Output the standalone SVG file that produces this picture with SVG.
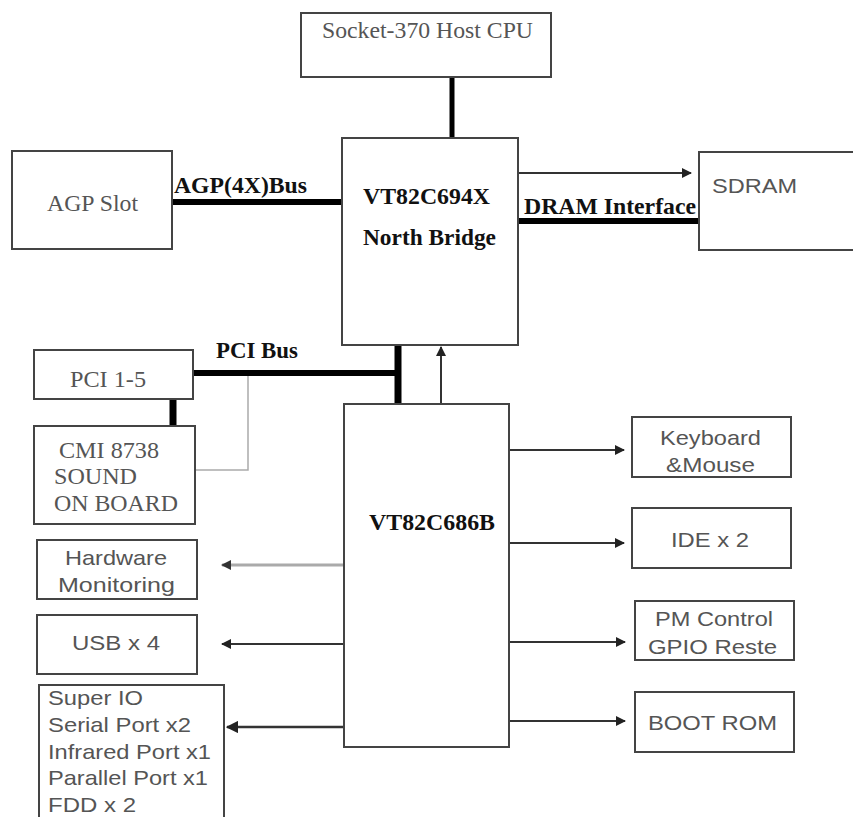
<svg xmlns="http://www.w3.org/2000/svg" width="853" height="817" viewBox="0 0 853 817">
<style>
.box{fill:#fff;stroke:#444;stroke-width:2}
.serif{font-family:"Liberation Serif","Times New Roman",serif;font-size:23px;fill:#555}
.bold{font-family:"Liberation Serif","Times New Roman",serif;font-size:23px;font-weight:bold;fill:#111}
.sans{font-family:"Liberation Sans",Arial,sans-serif;font-size:21px;fill:#555}
.bus{stroke:#000;stroke-width:5;fill:none}
.thin{stroke:#333;stroke-width:2;fill:none}
</style>
<defs>
<marker id="ah" viewBox="0 0 10 10" refX="9" refY="5" markerWidth="5" markerHeight="5" orient="auto" markerUnits="strokeWidth">
<path d="M0,0 L10,5 L0,10 z" fill="#222"/>
</marker>
<marker id="ahg" viewBox="0 0 10 10" refX="9" refY="5" markerWidth="3.4" markerHeight="3.4" orient="auto" markerUnits="strokeWidth">
<path d="M0,0 L10,5 L0,10 z" fill="#333"/>
</marker>
</defs>
<rect width="853" height="817" fill="#fff"/>

<g id="connectors">
<line class="bus" x1="452" y1="77" x2="452" y2="138"/>
<line class="bus" x1="172" y1="202" x2="342" y2="202" style="stroke-width:6"/>
<line class="bus" x1="518" y1="221" x2="699" y2="221" style="stroke-width:6"/>
<line class="thin" x1="518" y1="173" x2="691" y2="173" marker-end="url(#ah)"/>
<line class="bus" x1="193" y1="373" x2="400" y2="373" style="stroke-width:6"/>
<line class="bus" x1="398" y1="345" x2="398" y2="404" style="stroke-width:7"/>
<line class="thin" x1="441" y1="404" x2="441" y2="347" marker-end="url(#ah)"/>
<line class="bus" x1="173" y1="399" x2="173" y2="426" style="stroke-width:7"/>
<polyline points="248,376 248,470 195,470" fill="none" stroke="#aaa" stroke-width="1.5"/>
<line class="thin" x1="509" y1="450" x2="624" y2="450" marker-end="url(#ah)"/>
<line class="thin" x1="509" y1="543" x2="624" y2="543" marker-end="url(#ah)"/>
<line class="thin" x1="509" y1="642" x2="625" y2="642" marker-end="url(#ah)"/>
<line class="thin" x1="509" y1="721" x2="625" y2="721" marker-end="url(#ah)"/>
<line x1="343" y1="565" x2="222" y2="565" stroke="#aaa" stroke-width="3" marker-end="url(#ahg)"/>
<line class="thin" x1="343" y1="644" x2="222" y2="644" marker-end="url(#ah)"/>
<line class="thin" x1="344" y1="727" x2="227" y2="727" marker-end="url(#ah)" style="stroke-width:2.5"/>
</g>

<g id="cpu">
<rect class="box" x="301" y="13" width="250" height="64"/>
<text class="serif" x="322" y="38" textLength="211" lengthAdjust="spacingAndGlyphs">Socket-370 Host CPU</text>
</g>

<g id="north-bridge">
<rect class="box" x="342" y="138" width="176" height="207"/>
<text class="bold" x="363" y="204" textLength="127" lengthAdjust="spacingAndGlyphs">VT82C694X</text>
<text class="bold" x="363" y="245" textLength="133" lengthAdjust="spacingAndGlyphs">North Bridge</text>
</g>

<g id="agp-slot">
<rect class="box" x="12" y="151" width="160" height="98"/>
<text class="serif" x="47" y="211" textLength="91" lengthAdjust="spacingAndGlyphs">AGP Slot</text>
</g>
<g id="agp-label">
<text class="bold" x="174" y="193" textLength="133" lengthAdjust="spacingAndGlyphs">AGP(4X)Bus</text>
</g>

<g id="sdram">
<rect class="box" x="699" y="152" width="160" height="98"/>
<text class="sans" x="712" y="193" textLength="85" lengthAdjust="spacingAndGlyphs">SDRAM</text>
</g>
<g id="dram-label">
<text class="bold" x="524" y="214" textLength="172" lengthAdjust="spacingAndGlyphs">DRAM Interface</text>
</g>

<g id="pci-slots">
<rect class="box" x="34" y="350" width="159" height="49"/>
<text class="serif" x="70" y="387" textLength="76" lengthAdjust="spacingAndGlyphs">PCI 1-5</text>
</g>
<g id="pci-label">
<text class="bold" x="216" y="358" textLength="82" lengthAdjust="spacingAndGlyphs">PCI Bus</text>
</g>

<g id="sound">
<rect class="box" x="34" y="426" width="161" height="98"/>
<text class="serif" x="59" y="458" textLength="100" lengthAdjust="spacingAndGlyphs">CMI 8738</text>
<text class="serif" x="54" y="484" textLength="83" lengthAdjust="spacingAndGlyphs">SOUND</text>
<text class="serif" x="54" y="511" textLength="124" lengthAdjust="spacingAndGlyphs">ON BOARD</text>
</g>

<g id="south-bridge">
<rect class="box" x="344" y="404" width="165" height="343"/>
<text class="bold" x="369" y="530" textLength="126" lengthAdjust="spacingAndGlyphs">VT82C686B</text>
</g>

<g id="keyboard">
<rect class="box" x="632" y="417" width="159" height="60"/>
<text class="sans" x="660" y="445" textLength="101" lengthAdjust="spacingAndGlyphs">Keyboard</text>
<text class="sans" x="666" y="472" textLength="89" lengthAdjust="spacingAndGlyphs">&amp;Mouse</text>
</g>

<g id="ide">
<rect class="box" x="632" y="508" width="159" height="60"/>
<text class="sans" x="671" y="547" textLength="78" lengthAdjust="spacingAndGlyphs">IDE x 2</text>
</g>

<g id="pm-control">
<rect class="box" x="635" y="601" width="159" height="59"/>
<text class="sans" x="655" y="626" textLength="118" lengthAdjust="spacingAndGlyphs">PM Control</text>
<text class="sans" x="648" y="654" textLength="129" lengthAdjust="spacingAndGlyphs">GPIO Reste</text>
</g>

<g id="boot-rom">
<rect class="box" x="635" y="692" width="159" height="60"/>
<text class="sans" x="648" y="730" textLength="129" lengthAdjust="spacingAndGlyphs">BOOT ROM</text>
</g>

<g id="hw-monitor">
<rect class="box" x="37" y="540" width="160" height="59"/>
<text class="sans" x="65" y="565" textLength="102" lengthAdjust="spacingAndGlyphs">Hardware</text>
<text class="sans" x="58" y="592" textLength="117" lengthAdjust="spacingAndGlyphs">Monitoring</text>
</g>

<g id="usb">
<rect class="box" x="37" y="615" width="160" height="59"/>
<text class="sans" x="72" y="650" textLength="88" lengthAdjust="spacingAndGlyphs">USB x 4</text>
</g>

<g id="super-io">
<rect class="box" x="39" y="685" width="185" height="140"/>
<text class="sans" x="48" y="705" textLength="95" lengthAdjust="spacingAndGlyphs">Super IO</text>
<text class="sans" x="48" y="732" textLength="143" lengthAdjust="spacingAndGlyphs">Serial Port x2</text>
<text class="sans" x="48" y="759" textLength="163" lengthAdjust="spacingAndGlyphs">Infrared Port x1</text>
<text class="sans" x="48" y="785" textLength="160" lengthAdjust="spacingAndGlyphs">Parallel Port x1</text>
<text class="sans" x="48" y="812" textLength="88" lengthAdjust="spacingAndGlyphs">FDD x 2</text>
</g>
</svg>
